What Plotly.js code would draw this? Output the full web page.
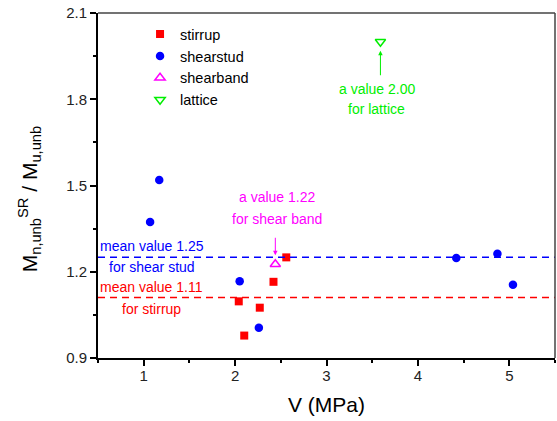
<!DOCTYPE html>
<html>
<head>
<meta charset="utf-8">
<script src="https://cdn.plot.ly/plotly-3.0.1.min.js"></script>
<style>html,body{margin:0;padding:0;background:#fff;}#chart{width:557px;height:421px;}</style>
</head>
<body>
<div id="chart"></div>
<script>
// Data
const stirrupV = [2.04, 2.10, 2.27, 2.42, 2.56];
const stirrupM = [1.097, 0.978, 1.075, 1.165, 1.250];
const studV = [1.07, 1.17, 2.05, 2.26, 4.42, 4.87, 5.04];
const studM = [1.373, 1.519, 1.167, 1.005, 1.248, 1.263, 1.155];
const bandV = [2.44];
const bandM = [1.226];
const latticeV = [3.59];
const latticeM = [2.00];
const meanStud = 1.25;
const meanStirrup = 1.11;
const xTicks = [1, 2, 3, 4, 5];
const yTicks = [0.9, 1.2, 1.5, 1.8, 2.1];
const yTickText = ['0.9', '1.2', '1.5', '1.8', '2.1'];

const sans = '"Liberation Sans", Arial, sans-serif';

const traces = [
  {x: stirrupV, y: stirrupM, name: 'stirrup', type: 'scatter', mode: 'markers',
   marker: {symbol: 'square', size: 8, color: '#ff0000'}},
  {x: studV, y: studM, name: 'shearstud', type: 'scatter', mode: 'markers',
   marker: {symbol: 'circle', size: 8.5, color: '#0000ff'}},
  {x: bandV, y: bandM, name: 'shearband', type: 'scatter', mode: 'markers',
   marker: {symbol: 'triangle-up-open', size: 9, color: '#ff00ff', line: {width: 1.5, color: '#ff00ff'}}},
  {x: latticeV, y: latticeM, name: 'lattice', type: 'scatter', mode: 'markers',
   marker: {symbol: 'triangle-down-open', size: 9, color: '#00ee00', line: {width: 1.5, color: '#00ee00'}}}
];

function txt(text, x, y, color) {
  return {text: text, x: x, y: y, xref: 'x', yref: 'y', showarrow: false,
          font: {family: sans, size: 14, color: color}, xanchor: 'center', yanchor: 'middle'};
}

const annotations = [
  txt('mean value 1.25', 1.09, 1.290, '#0000ff'),
  txt('for shear stud', 1.09, 1.218, '#0000ff'),
  txt('mean value 1.11', 1.09, 1.146, '#ff0000'),
  txt('for stirrup', 1.09, 1.070, '#ff0000'),
  txt('a value 1.22', 2.46, 1.459, '#ff00ff'),
  txt('for shear band', 2.46, 1.384, '#ff00ff'),
  txt('a value 2.00', 3.55, 1.836, '#00ee00'),
  txt('for lattice', 3.55, 1.766, '#00ee00'),
  {x: bandV[0], y: bandM[0], xref: 'x', yref: 'y', text: '', showarrow: true,
   ax: 0, ay: -28, standoff: 9, arrowhead: 2, arrowsize: 0.9, arrowwidth: 1, arrowcolor: '#ff00ff'},
  {x: latticeV[0], y: latticeM[0], xref: 'x', yref: 'y', text: '', showarrow: true,
   ax: 0, ay: 35, standoff: 9, arrowhead: 2, arrowsize: 0.9, arrowwidth: 1, arrowcolor: '#00ee00'},
  // y-axis title
  {text: 'M<sub>n,unb</sub><sup>SR</sup> / M<sub>u,unb</sub>', xref: 'paper', yref: 'paper', x: -0.151, y: 0.46, textangle: -90,
   showarrow: false, font: {family: sans, size: 21, color: '#000'}, xanchor: 'center', yanchor: 'middle'}
];

const shapes = [
  {type: 'line', xref: 'paper', yref: 'y', x0: 0, x1: 1, y0: meanStud, y1: meanStud,
   line: {color: '#0000ff', width: 1.5, dash: '7px,5px'}},
  {type: 'line', xref: 'paper', yref: 'y', x0: 0, x1: 1, y0: meanStirrup, y1: meanStirrup,
   line: {color: '#ff0000', width: 1.5, dash: '7px,5px'}},
  {type: 'line', xref: 'paper', yref: 'paper', x0: 0, x1: 1, y0: 1, y1: 1, line: {color: '#444', width: 1.5}},
  {type: 'line', xref: 'paper', yref: 'paper', x0: 1, x1: 1, y0: 0, y1: 1, line: {color: '#444', width: 1.5}}
];

const layout = {
  width: 557, height: 421,
  margin: {l: 98, r: 2, t: 13, b: 63},
  paper_bgcolor: '#fff', plot_bgcolor: '#fff',
  showlegend: true,
  legend: {x: 0.092, y: 0.985, xanchor: 'left', yanchor: 'top', bgcolor: 'rgba(0,0,0,0)',
           font: {family: sans, size: 14.5, color: '#000'}, traceorder: 'normal'},
  xaxis: {range: [0.5, 5.5], tickvals: xTicks, ticks: 'outside', ticklen: 6, tickwidth: 2, tickcolor: '#000',
          showline: true, linewidth: 2, linecolor: '#000', showgrid: false, zeroline: false,
          tickfont: {family: sans, size: 15, color: '#222'}, ticklabelstandoff: -3,
          minor: {dtick: 0.5, tick0: 0.5, ticks: 'outside', ticklen: 3, tickwidth: 2, tickcolor: '#000', showgrid: false},
          title: {text: 'V (MPa)', font: {family: sans, size: 21, color: '#000'}, standoff: 14}},
  yaxis: {range: [0.9, 2.1], tickvals: yTicks, ticktext: yTickText, ticks: 'outside', ticklen: 6, tickwidth: 2, tickcolor: '#000',
          showline: true, linewidth: 2, linecolor: '#000', showgrid: false, zeroline: false,
          tickfont: {family: sans, size: 15, color: '#222'},
          minor: {dtick: 0.15, tick0: 0.9, ticks: 'outside', ticklen: 3, tickwidth: 2, tickcolor: '#000', showgrid: false}},
  annotations: annotations,
  shapes: shapes
};

Plotly.newPlot('chart', traces, layout, {displayModeBar: false, staticPlot: true});
</script>
</body>
</html>
